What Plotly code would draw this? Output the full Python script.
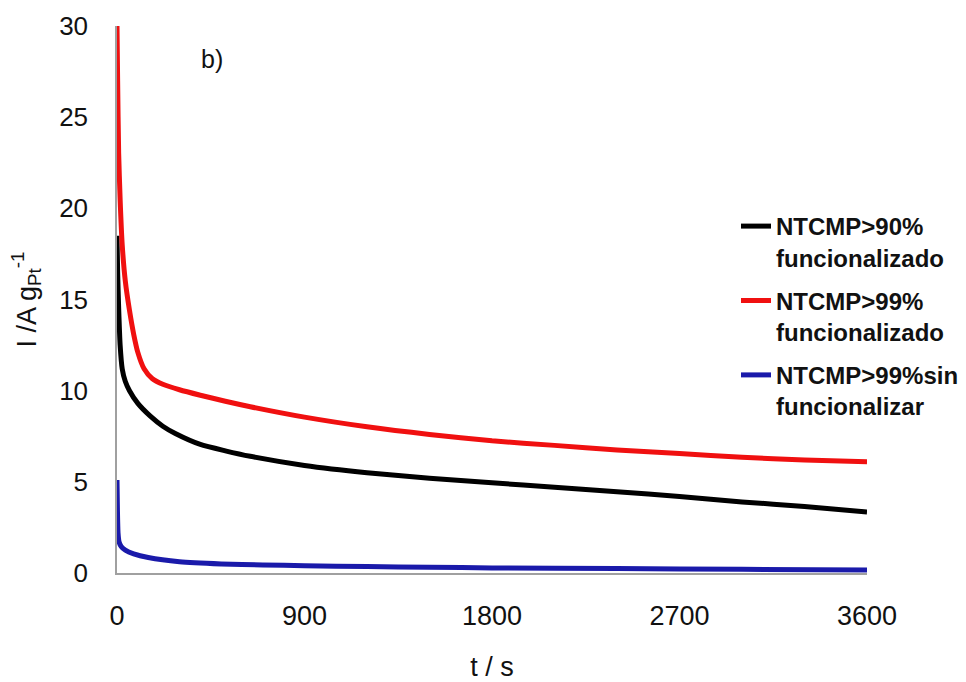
import plotly.graph_objects as go

# Time (s) and current (A g_Pt^-1)
t_black = [0, 3, 8, 15, 25, 40, 60, 100, 160, 220, 280, 400, 520, 640, 900, 1200, 1500, 1800, 2100, 2400, 2700, 3000, 3300, 3600]
i_black = [18.5, 16.5, 14.5, 12.5, 11.2, 10.5, 10.0, 9.3, 8.6, 8.05, 7.65, 7.05, 6.7, 6.4, 5.9, 5.5, 5.2, 4.95, 4.7, 4.45, 4.2, 3.9, 3.65, 3.35]

t_red = [0, 3, 8, 15, 25, 40, 60, 80, 100, 130, 170, 220, 300, 400, 520, 640, 900, 1200, 1500, 1800, 2100, 2400, 2700, 3000, 3300, 3600]
i_red = [30, 27, 23, 20.5, 18, 16, 14.4, 13.1, 12.1, 11.2, 10.65, 10.35, 10.05, 9.75, 9.42, 9.12, 8.55, 8.02, 7.6, 7.25, 7.0, 6.75, 6.55, 6.35, 6.2, 6.1]

t_blue = [0, 2, 5, 10, 20, 40, 80, 150, 300, 500, 700, 900, 1200, 1500, 1800, 2400, 3000, 3600]
i_blue = [5.1, 3.5, 2.2, 1.7, 1.45, 1.25, 1.05, 0.85, 0.62, 0.5, 0.44, 0.4, 0.35, 0.32, 0.28, 0.24, 0.2, 0.17]

names = ["NTCMP>90%<br>funcionalizado", "NTCMP>99%<br>funcionalizado", "NTCMP>99%sin<br>funcionalizar"]
colors = ["#000000", "#f01010", "#1a1aaa"]
x_ticks = [0, 900, 1800, 2700, 3600]
y_ticks = [0, 5, 10, 15, 20, 25, 30]

FONT = "Arial, Liberation Sans, sans-serif"

fig = go.Figure()
for tt, ii, nm, c in zip([t_black, t_red, t_blue], [i_black, i_red, i_blue], names, colors):
    fig.add_trace(go.Scatter(x=tt, y=ii, mode="lines", name=nm, legendgroup=nm,
                             line=dict(color=c, width=5, shape="spline", smoothing=0.6)))

PW, PH = 750, 547  # plot area size in px
fig.update_layout(
    width=966, height=682,
    margin=dict(l=117, r=99, t=26, b=109, autoexpand=False),
    paper_bgcolor="white", plot_bgcolor="white",
    font=dict(family=FONT, color="#111111"),
    showlegend=True,
    legend=dict(x=(736 - 117) / PW, xanchor="left",
                y=(573 - 204) / PH, yanchor="top",
                font=dict(size=24, family=FONT, color="#111111", weight="bold"),
                valign="top", tracegroupgap=9, bgcolor="rgba(0,0,0,0)"),
    xaxis=dict(range=[0, 3600], tickvals=x_ticks, ticks="", showgrid=False, zeroline=False,
               showline=True, linecolor="#a0a0a0", linewidth=1.5,
               tickfont=dict(size=27), ticklabelstandoff=18,
               title=dict(text="t / s", font=dict(size=27), standoff=33)),
    yaxis=dict(range=[0, 30], tickvals=y_ticks, ticks="", showgrid=False, zeroline=False,
               showline=True, linecolor="#a0a0a0", linewidth=1.5,
               tickfont=dict(size=26), ticklabelstandoff=22,
               title=dict(text="I /A g<sub>Pt</sub><sup>-1</sup>", font=dict(size=27), standoff=15)),
    annotations=[dict(text="b)", x=(212 - 117) / PW, y=(573 - 59) / PH,
                      xanchor="center", yanchor="middle",
                      xref="paper", yref="paper", showarrow=False, font=dict(size=25))],
)

fig.write_html("out.html")
